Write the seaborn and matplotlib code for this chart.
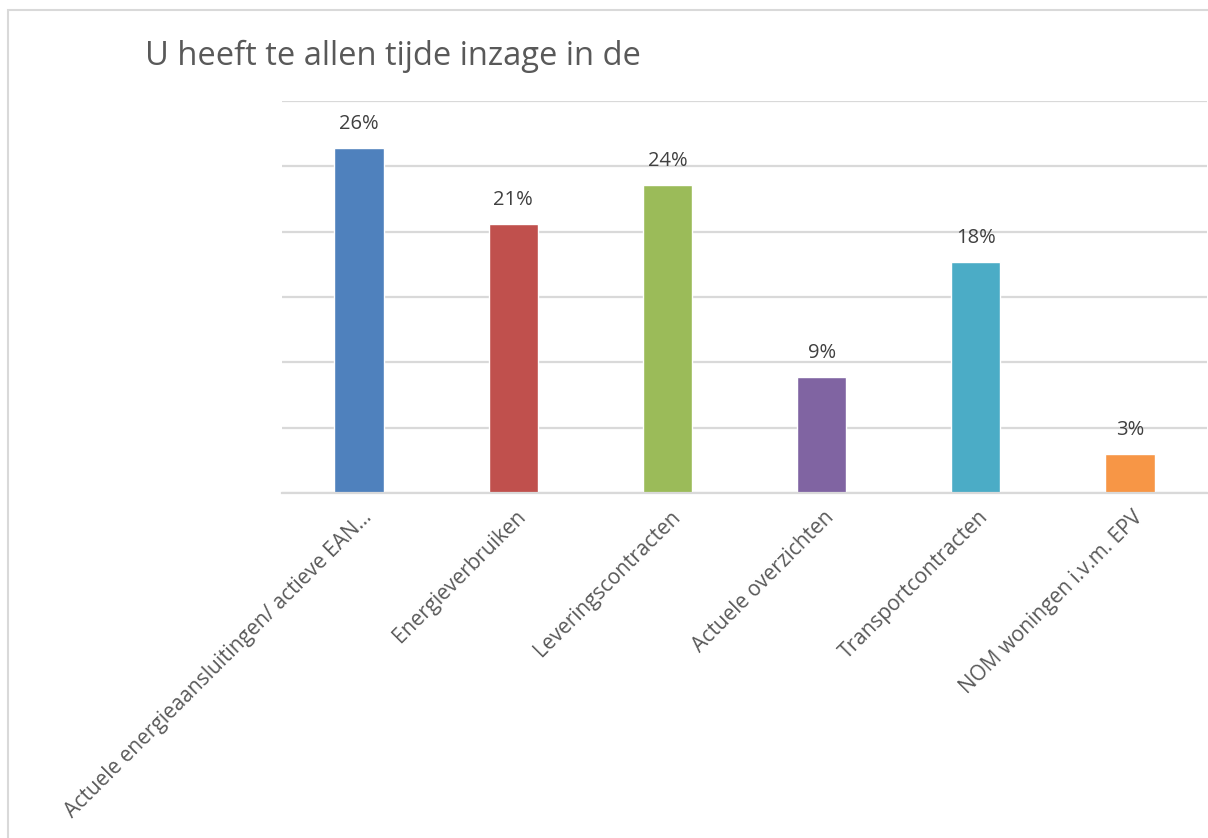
import matplotlib
matplotlib.use("Agg")
import matplotlib.pyplot as plt
import matplotlib.transforms as mtransforms
from matplotlib.patches import Rectangle
import seaborn as sns
import pandas as pd

title = "U heeft te allen tijde inzage in de"
categories = [
    "Actuele energieaansluitingen/ actieve EAN\u2026",
    "Energieverbruiken",
    "Leveringscontracten",
    "Actuele overzichten",
    "Transportcontracten",
    "NOM woningen i.v.m. EPV",
]
values = [26.4, 20.6, 23.6, 8.9, 17.7, 3.0]
value_labels = ["26%", "21%", "24%", "9%", "18%", "3%"]
colors = ["#4F81BD", "#C0504D", "#9BBB59", "#8064A2", "#4BACC6", "#F79646"]
y_ticks = [0, 5, 10, 15, 20, 25, 30]

sns.set_theme(style="white")
plt.rcParams["font.family"] = ["Open Sans", "DejaVu Sans"]

W, H = 1208, 838
fig = plt.figure(figsize=(W / 100, H / 100), dpi=100)
ax = fig.add_axes([282 / W, 1 - 493 / H, (1207 - 282) / W, (493 - 101) / H])

df = pd.DataFrame({"cat": categories, "val": values})
sns.barplot(data=df, x="cat", y="val", hue="cat", palette=colors,
            legend=False, width=0.32, saturation=1, ax=ax)

ax.set_xlim(-0.5, len(categories) - 0.5)
ax.set_ylim(0, 30)
ax.set_yticks(y_ticks)
ax.set_yticklabels([])
ax.tick_params(axis="y", length=0)
ax.yaxis.grid(True, color="#D9D9D9", linewidth=1.6)
ax.set_axisbelow(True)
for s in ["left", "right", "top"]:
    ax.spines[s].set_visible(False)
ax.spines["bottom"].set_color("#D9D9D9")
ax.spines["bottom"].set_linewidth(1.6)
ax.set_xlabel("")
ax.set_ylabel("")

ax.tick_params(axis="x", length=0, pad=4)
ax.set_xticks(range(len(categories)))
ax.set_xticklabels(categories, rotation=45, ha="right", va="top",
                   rotation_mode="anchor", fontsize=15, color="#595959")
offset = mtransforms.ScaledTranslation(2 / 100, -8 / 100, fig.dpi_scale_trans)
for lbl in ax.get_xticklabels():
    lbl.set_transform(lbl.get_transform() + offset)

for i, (v, t) in enumerate(zip(values, value_labels)):
    ax.annotate(t, xy=(i, v), xytext=(0, 13.5), textcoords="offset points",
                ha="center", va="baseline", fontsize=14.5, color="#404040")

fig.text(145 / W, 1 - 65 / H, title, fontsize=23.5, color="#595959",
         ha="left", va="baseline")

border = Rectangle((8, -20), W + 20, H - 10 + 20, transform=None,
                   fill=False, edgecolor="#D9D9D9", linewidth=1.5)
fig.patches.append(border)

fig.savefig("out.png", dpi=100, facecolor="white")
